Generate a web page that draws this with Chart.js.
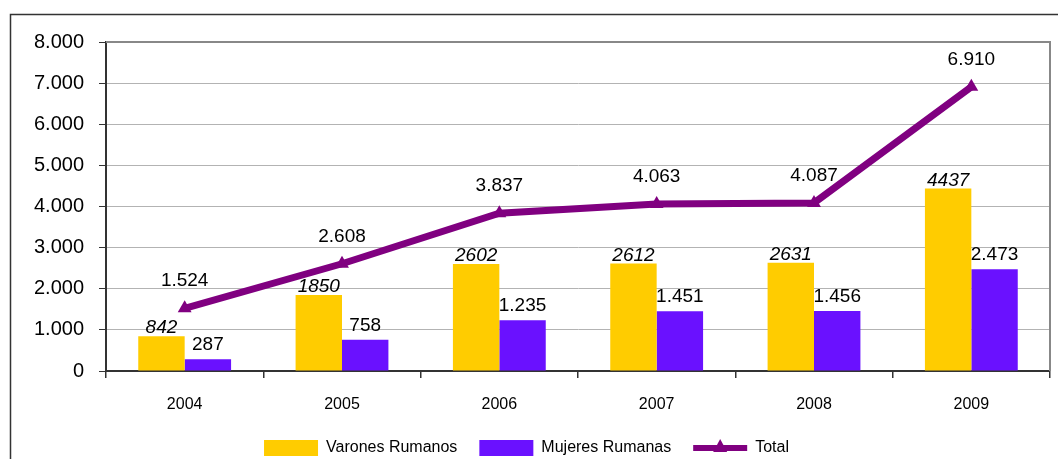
<!DOCTYPE html>
<html>
<head>
<meta charset="utf-8">
<script src="https://cdn.jsdelivr.net/npm/chart.js@4"></script>
<style>
  html, body { margin: 0; padding: 0; background: #fff; }
  #wrap { width: 1058px; height: 459px; position: relative; }
</style>
</head>
<body>
<div id="wrap"><canvas id="chart" width="1058" height="459"></canvas></div>
<script>
const years = ['2004', '2005', '2006', '2007', '2008', '2009'];
const varones = [842, 1850, 2602, 2612, 2631, 4437];
const mujeres = [287, 758, 1235, 1451, 1456, 2473];
const total = [1524, 2608, 3837, 4063, 4087, 6910];
const yTicks = [0, 1000, 2000, 3000, 4000, 5000, 6000, 7000, 8000];

const FONT = "'Liberation Sans', Arial, sans-serif";
const LEGEND_PAD = 22;
const LEGEND_FONT = 16;

// 1234 -> "1.234"
const fmt = n => String(n).replace(/\B(?=(\d{3})+(?!\d))/g, '.');

// outer frame + plot border (top / right), legend moved down to its row
const framePlugin = {
  id: 'frame',
  afterLayout(chart) {
    const L = chart.legend;
    const d = 448 - (L.top + LEGEND_PAD + LEGEND_FONT / 2);
    L.top += d;
    L.bottom += d;
  },
  beforeDraw(chart) {
    const ctx = chart.ctx;
    ctx.save();
    ctx.fillStyle = '#fff';
    ctx.fillRect(0, 0, chart.width, chart.height);
    ctx.strokeStyle = '#333';
    ctx.lineWidth = 1.5;
    ctx.beginPath();
    ctx.moveTo(10.5, chart.height);
    ctx.lineTo(10.5, 14.5);
    ctx.lineTo(chart.width, 14.5);
    ctx.stroke();
    ctx.restore();
  },
  afterDraw(chart) {
    const { ctx, chartArea: a } = chart;
    ctx.save();
    ctx.strokeStyle = '#888';
    ctx.lineWidth = 2;
    ctx.beginPath();
    ctx.moveTo(a.left, a.top);
    ctx.lineTo(a.right, a.top);
    ctx.lineTo(a.right, a.bottom);
    ctx.stroke();

    // triangle on the Total legend line
    const box = chart.legend.legendHitBoxes[2];
    if (box) {
      const cx = box.left + 27, cy = box.top + LEGEND_FONT / 2;
      ctx.fillStyle = '#800080';
      ctx.beginPath();
      ctx.moveTo(cx, cy - 9);
      ctx.lineTo(cx + 7, cy + 4);
      ctx.lineTo(cx - 7, cy + 4);
      ctx.closePath();
      ctx.fill();
    }
    ctx.restore();
  }
};

// value labels
const labelPlugin = {
  id: 'valueLabels',
  afterDatasetsDraw(chart) {
    const ctx = chart.ctx;
    ctx.save();
    ctx.fillStyle = '#000';
    ctx.textAlign = 'center';
    ctx.textBaseline = 'alphabetic';

    chart.getDatasetMeta(0).data.forEach((el, i) => {
      ctx.font = 'italic 19px ' + FONT;
      ctx.fillText(String(varones[i]), el.x, el.y - 3);
    });
    chart.getDatasetMeta(1).data.forEach((el, i) => {
      ctx.font = '19px ' + FONT;
      ctx.fillText(fmt(mujeres[i]), el.x, el.y - 9);
    });
    chart.getDatasetMeta(2).data.forEach((el, i) => {
      ctx.font = '19px ' + FONT;
      ctx.fillText(fmt(total[i]), el.x, el.y - 22);
    });
    ctx.restore();
  }
};

new Chart(document.getElementById('chart'), {
  data: {
    labels: years,
    datasets: [
      {
        type: 'bar',
        label: 'Varones Rumanos',
        data: varones,
        backgroundColor: '#FFCC00',
        categoryPercentage: 0.59,
        barPercentage: 1,
        order: 2
      },
      {
        type: 'bar',
        label: 'Mujeres Rumanas',
        data: mujeres,
        backgroundColor: '#6A11FF',
        categoryPercentage: 0.59,
        barPercentage: 1,
        order: 2
      },
      {
        type: 'line',
        label: 'Total',
        data: total,
        borderColor: '#800080',
        backgroundColor: '#800080',
        borderWidth: 7,
        pointStyle: 'triangle',
        pointRadius: 8,
        pointBackgroundColor: '#800080',
        pointBorderColor: '#800080',
        pointBorderWidth: 0,
        tension: 0,
        order: 1
      }
    ]
  },
  options: {
    responsive: false,
    animation: false,
    devicePixelRatio: 1,
    layout: { padding: { top: 42, right: 5, bottom: 0, left: 0 } },
    scales: {
      x: {
        offset: true,
        grid: {
          drawOnChartArea: false,
          drawTicks: true,
          tickLength: 7,
          tickColor: '#333',
          lineWidth: 1.5
        },
        border: { display: true, color: '#333', width: 2 },
        ticks: {
          color: '#000',
          font: { family: FONT, size: 16 },
          padding: 17
        },
        afterFit: s => { s.height = 40; }
      },
      y: {
        min: 0,
        max: 8000,
        afterBuildTicks: s => { s.ticks = yTicks.map(v => ({ value: v })); },
        grid: {
          color: '#b3b3b3',
          lineWidth: 1,
          drawTicks: true,
          tickLength: 7,
          tickColor: '#333'
        },
        border: { display: true, color: '#333', width: 2 },
        ticks: {
          color: '#000',
          font: { family: FONT, size: 20 },
          padding: 15,
          callback: v => fmt(v)
        },
        afterFit: s => { s.width = 106; }
      }
    },
    plugins: {
      legend: {
        position: 'bottom',
        labels: {
          color: '#000',
          font: { family: FONT, size: LEGEND_FONT },
          usePointStyle: true,
          pointStyleWidth: 54,
          boxHeight: 16,
          padding: LEGEND_PAD,
          generateLabels: () => [
            { text: 'Varones Rumanos', fillStyle: '#FFCC00', strokeStyle: '#FFCC00', lineWidth: 0, pointStyle: 'rect', datasetIndex: 0 },
            { text: 'Mujeres Rumanas', fillStyle: '#6A11FF', strokeStyle: '#6A11FF', lineWidth: 0, pointStyle: 'rect', datasetIndex: 1 },
            { text: 'Total', fillStyle: '#800080', strokeStyle: '#800080', lineWidth: 6, pointStyle: 'line', datasetIndex: 2 }
          ]
        }
      },
      tooltip: { enabled: false }
    }
  },
  plugins: [framePlugin, labelPlugin]
});
</script>
</body>
</html>
